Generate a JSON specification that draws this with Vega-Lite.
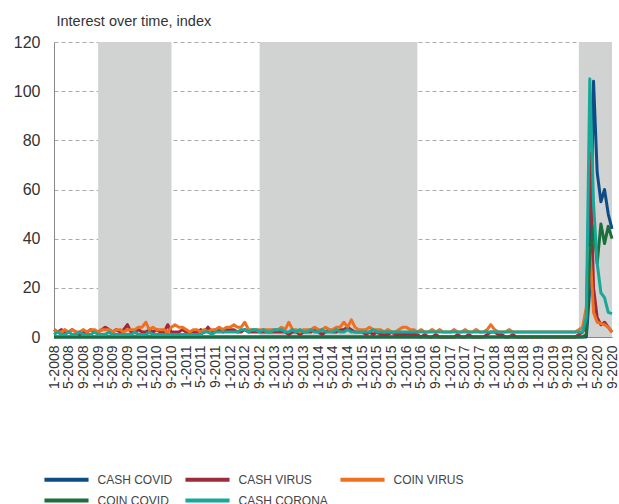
{
  "$schema": "https://vega.github.io/schema/vega-lite/v6.json",
  "width": 558,
  "height": 295,
  "autosize": "none",
  "padding": {"left": 54, "top": 42, "right": 7, "bottom": 167},
  "background": "white",
  "config": {
    "view": {"stroke": null},
    "font": "Liberation Sans",
    "axis": {"labelFont": "Liberation Sans", "labelColor": "#333", "titleFont": "Liberation Sans"},
    "legend": {"labelFont": "Liberation Sans"}
  },
  "datasets": {
    "periods": [
      {"s": "2009-01-01", "e": "2010-09-01"},
      {"s": "2012-09-01", "e": "2016-04-01"},
      {"s": "2019-12-01", "e": "2020-09-01"}
    ],
    "trends": [
      {"d":"2008-01-01","CASH COVID":0,"CASH VIRUS":3,"COIN VIRUS":3,"COIN COVID":0,"CASH CORONA":1},
      {"d":"2008-02-01","CASH COVID":0,"CASH VIRUS":2,"COIN VIRUS":2,"COIN COVID":0,"CASH CORONA":2},
      {"d":"2008-03-01","CASH COVID":0,"CASH VIRUS":3,"COIN VIRUS":2,"COIN COVID":0,"CASH CORONA":1},
      {"d":"2008-04-01","CASH COVID":0,"CASH VIRUS":2,"COIN VIRUS":3,"COIN COVID":0,"CASH CORONA":1},
      {"d":"2008-05-01","CASH COVID":0,"CASH VIRUS":2,"COIN VIRUS":2,"COIN COVID":0,"CASH CORONA":2},
      {"d":"2008-06-01","CASH COVID":0,"CASH VIRUS":3,"COIN VIRUS":3,"COIN COVID":0,"CASH CORONA":1},
      {"d":"2008-07-01","CASH COVID":0,"CASH VIRUS":2,"COIN VIRUS":2,"COIN COVID":0,"CASH CORONA":1},
      {"d":"2008-08-01","CASH COVID":0,"CASH VIRUS":1,"COIN VIRUS":2,"COIN COVID":0,"CASH CORONA":2},
      {"d":"2008-09-01","CASH COVID":0,"CASH VIRUS":2,"COIN VIRUS":3,"COIN COVID":0,"CASH CORONA":1},
      {"d":"2008-10-01","CASH COVID":0,"CASH VIRUS":2,"COIN VIRUS":2,"COIN COVID":0,"CASH CORONA":1},
      {"d":"2008-11-01","CASH COVID":0,"CASH VIRUS":3,"COIN VIRUS":3,"COIN COVID":0,"CASH CORONA":1},
      {"d":"2008-12-01","CASH COVID":0,"CASH VIRUS":2,"COIN VIRUS":3,"COIN COVID":0,"CASH CORONA":2},
      {"d":"2009-01-01","CASH COVID":0,"CASH VIRUS":2,"COIN VIRUS":2,"COIN COVID":0,"CASH CORONA":1},
      {"d":"2009-02-01","CASH COVID":0,"CASH VIRUS":3,"COIN VIRUS":3,"COIN COVID":0,"CASH CORONA":1},
      {"d":"2009-03-01","CASH COVID":0,"CASH VIRUS":4,"COIN VIRUS":3,"COIN COVID":0,"CASH CORONA":1},
      {"d":"2009-04-01","CASH COVID":0,"CASH VIRUS":3,"COIN VIRUS":3,"COIN COVID":0,"CASH CORONA":2},
      {"d":"2009-05-01","CASH COVID":0,"CASH VIRUS":2,"COIN VIRUS":2,"COIN COVID":0,"CASH CORONA":1},
      {"d":"2009-06-01","CASH COVID":0,"CASH VIRUS":3,"COIN VIRUS":3,"COIN COVID":0,"CASH CORONA":1},
      {"d":"2009-07-01","CASH COVID":0,"CASH VIRUS":2,"COIN VIRUS":3,"COIN COVID":0,"CASH CORONA":1},
      {"d":"2009-08-01","CASH COVID":0,"CASH VIRUS":3,"COIN VIRUS":2,"COIN COVID":0,"CASH CORONA":1},
      {"d":"2009-09-01","CASH COVID":0,"CASH VIRUS":5,"COIN VIRUS":3,"COIN COVID":0,"CASH CORONA":1},
      {"d":"2009-10-01","CASH COVID":0,"CASH VIRUS":2,"COIN VIRUS":3,"COIN COVID":0,"CASH CORONA":1},
      {"d":"2009-11-01","CASH COVID":0,"CASH VIRUS":2,"COIN VIRUS":3,"COIN COVID":0,"CASH CORONA":2},
      {"d":"2009-12-01","CASH COVID":0,"CASH VIRUS":3,"COIN VIRUS":4,"COIN COVID":0,"CASH CORONA":1},
      {"d":"2010-01-01","CASH COVID":0,"CASH VIRUS":2,"COIN VIRUS":4,"COIN COVID":0,"CASH CORONA":1},
      {"d":"2010-02-01","CASH COVID":0,"CASH VIRUS":2,"COIN VIRUS":6,"COIN COVID":0,"CASH CORONA":1},
      {"d":"2010-03-01","CASH COVID":0,"CASH VIRUS":3,"COIN VIRUS":3,"COIN COVID":0,"CASH CORONA":2},
      {"d":"2010-04-01","CASH COVID":0,"CASH VIRUS":2,"COIN VIRUS":4,"COIN COVID":0,"CASH CORONA":1},
      {"d":"2010-05-01","CASH COVID":0,"CASH VIRUS":3,"COIN VIRUS":3,"COIN COVID":0,"CASH CORONA":1},
      {"d":"2010-06-01","CASH COVID":0,"CASH VIRUS":2,"COIN VIRUS":3,"COIN COVID":0,"CASH CORONA":1},
      {"d":"2010-07-01","CASH COVID":0,"CASH VIRUS":2,"COIN VIRUS":3,"COIN COVID":0,"CASH CORONA":1},
      {"d":"2010-08-01","CASH COVID":0,"CASH VIRUS":5,"COIN VIRUS":2,"COIN COVID":0,"CASH CORONA":1},
      {"d":"2010-09-01","CASH COVID":0,"CASH VIRUS":2,"COIN VIRUS":4,"COIN COVID":0,"CASH CORONA":1},
      {"d":"2010-10-01","CASH COVID":0,"CASH VIRUS":2,"COIN VIRUS":5,"COIN COVID":0,"CASH CORONA":1},
      {"d":"2010-11-01","CASH COVID":0,"CASH VIRUS":2,"COIN VIRUS":4,"COIN COVID":0,"CASH CORONA":1},
      {"d":"2010-12-01","CASH COVID":0,"CASH VIRUS":3,"COIN VIRUS":4,"COIN COVID":0,"CASH CORONA":1},
      {"d":"2011-01-01","CASH COVID":0,"CASH VIRUS":2,"COIN VIRUS":3,"COIN COVID":0,"CASH CORONA":1},
      {"d":"2011-02-01","CASH COVID":0,"CASH VIRUS":2,"COIN VIRUS":2,"COIN COVID":0,"CASH CORONA":1},
      {"d":"2011-03-01","CASH COVID":0,"CASH VIRUS":2,"COIN VIRUS":3,"COIN COVID":0,"CASH CORONA":1},
      {"d":"2011-04-01","CASH COVID":0,"CASH VIRUS":2,"COIN VIRUS":3,"COIN COVID":0,"CASH CORONA":1},
      {"d":"2011-05-01","CASH COVID":0,"CASH VIRUS":3,"COIN VIRUS":2,"COIN COVID":0,"CASH CORONA":1},
      {"d":"2011-06-01","CASH COVID":0,"CASH VIRUS":2,"COIN VIRUS":3,"COIN COVID":0,"CASH CORONA":2},
      {"d":"2011-07-01","CASH COVID":0,"CASH VIRUS":4,"COIN VIRUS":2,"COIN COVID":0,"CASH CORONA":2},
      {"d":"2011-08-01","CASH COVID":0,"CASH VIRUS":2,"COIN VIRUS":3,"COIN COVID":0,"CASH CORONA":1},
      {"d":"2011-09-01","CASH COVID":0,"CASH VIRUS":3,"COIN VIRUS":3,"COIN COVID":0,"CASH CORONA":2},
      {"d":"2011-10-01","CASH COVID":0,"CASH VIRUS":3,"COIN VIRUS":4,"COIN COVID":0,"CASH CORONA":2},
      {"d":"2011-11-01","CASH COVID":0,"CASH VIRUS":2,"COIN VIRUS":3,"COIN COVID":0,"CASH CORONA":2},
      {"d":"2011-12-01","CASH COVID":0,"CASH VIRUS":3,"COIN VIRUS":4,"COIN COVID":0,"CASH CORONA":2},
      {"d":"2012-01-01","CASH COVID":0,"CASH VIRUS":3,"COIN VIRUS":4,"COIN COVID":0,"CASH CORONA":2},
      {"d":"2012-02-01","CASH COVID":0,"CASH VIRUS":3,"COIN VIRUS":5,"COIN COVID":0,"CASH CORONA":2},
      {"d":"2012-03-01","CASH COVID":0,"CASH VIRUS":2,"COIN VIRUS":4,"COIN COVID":0,"CASH CORONA":2},
      {"d":"2012-04-01","CASH COVID":0,"CASH VIRUS":2,"COIN VIRUS":4,"COIN COVID":0,"CASH CORONA":3},
      {"d":"2012-05-01","CASH COVID":0,"CASH VIRUS":3,"COIN VIRUS":6,"COIN COVID":0,"CASH CORONA":3},
      {"d":"2012-06-01","CASH COVID":0,"CASH VIRUS":2,"COIN VIRUS":3,"COIN COVID":0,"CASH CORONA":2},
      {"d":"2012-07-01","CASH COVID":0,"CASH VIRUS":2,"COIN VIRUS":3,"COIN COVID":0,"CASH CORONA":3},
      {"d":"2012-08-01","CASH COVID":0,"CASH VIRUS":2,"COIN VIRUS":3,"COIN COVID":0,"CASH CORONA":3},
      {"d":"2012-09-01","CASH COVID":0,"CASH VIRUS":2,"COIN VIRUS":3,"COIN COVID":0,"CASH CORONA":2},
      {"d":"2012-10-01","CASH COVID":0,"CASH VIRUS":2,"COIN VIRUS":3,"COIN COVID":0,"CASH CORONA":3},
      {"d":"2012-11-01","CASH COVID":0,"CASH VIRUS":2,"COIN VIRUS":3,"COIN COVID":0,"CASH CORONA":2},
      {"d":"2012-12-01","CASH COVID":0,"CASH VIRUS":2,"COIN VIRUS":3,"COIN COVID":0,"CASH CORONA":2},
      {"d":"2013-01-01","CASH COVID":0,"CASH VIRUS":2,"COIN VIRUS":3,"COIN COVID":0,"CASH CORONA":3},
      {"d":"2013-02-01","CASH COVID":0,"CASH VIRUS":2,"COIN VIRUS":3,"COIN COVID":0,"CASH CORONA":3},
      {"d":"2013-03-01","CASH COVID":0,"CASH VIRUS":2,"COIN VIRUS":4,"COIN COVID":0,"CASH CORONA":3},
      {"d":"2013-04-01","CASH COVID":0,"CASH VIRUS":2,"COIN VIRUS":3,"COIN COVID":0,"CASH CORONA":2},
      {"d":"2013-05-01","CASH COVID":0,"CASH VIRUS":1,"COIN VIRUS":6,"COIN COVID":0,"CASH CORONA":2},
      {"d":"2013-06-01","CASH COVID":0,"CASH VIRUS":2,"COIN VIRUS":3,"COIN COVID":0,"CASH CORONA":3},
      {"d":"2013-07-01","CASH COVID":0,"CASH VIRUS":2,"COIN VIRUS":3,"COIN COVID":0,"CASH CORONA":2},
      {"d":"2013-08-01","CASH COVID":0,"CASH VIRUS":1,"COIN VIRUS":2,"COIN COVID":0,"CASH CORONA":3},
      {"d":"2013-09-01","CASH COVID":0,"CASH VIRUS":2,"COIN VIRUS":3,"COIN COVID":0,"CASH CORONA":2},
      {"d":"2013-10-01","CASH COVID":0,"CASH VIRUS":2,"COIN VIRUS":3,"COIN COVID":0,"CASH CORONA":2},
      {"d":"2013-11-01","CASH COVID":0,"CASH VIRUS":2,"COIN VIRUS":3,"COIN COVID":0,"CASH CORONA":3},
      {"d":"2013-12-01","CASH COVID":0,"CASH VIRUS":3,"COIN VIRUS":4,"COIN COVID":0,"CASH CORONA":2},
      {"d":"2014-01-01","CASH COVID":0,"CASH VIRUS":2,"COIN VIRUS":3,"COIN COVID":0,"CASH CORONA":2},
      {"d":"2014-02-01","CASH COVID":0,"CASH VIRUS":1,"COIN VIRUS":3,"COIN COVID":0,"CASH CORONA":3},
      {"d":"2014-03-01","CASH COVID":0,"CASH VIRUS":2,"COIN VIRUS":4,"COIN COVID":0,"CASH CORONA":2},
      {"d":"2014-04-01","CASH COVID":0,"CASH VIRUS":3,"COIN VIRUS":3,"COIN COVID":0,"CASH CORONA":2},
      {"d":"2014-05-01","CASH COVID":0,"CASH VIRUS":2,"COIN VIRUS":3,"COIN COVID":0,"CASH CORONA":2},
      {"d":"2014-06-01","CASH COVID":0,"CASH VIRUS":2,"COIN VIRUS":4,"COIN COVID":0,"CASH CORONA":3},
      {"d":"2014-07-01","CASH COVID":0,"CASH VIRUS":3,"COIN VIRUS":4,"COIN COVID":0,"CASH CORONA":2},
      {"d":"2014-08-01","CASH COVID":0,"CASH VIRUS":3,"COIN VIRUS":6,"COIN COVID":0,"CASH CORONA":2},
      {"d":"2014-09-01","CASH COVID":0,"CASH VIRUS":4,"COIN VIRUS":4,"COIN COVID":0,"CASH CORONA":3},
      {"d":"2014-10-01","CASH COVID":0,"CASH VIRUS":3,"COIN VIRUS":7,"COIN COVID":0,"CASH CORONA":2},
      {"d":"2014-11-01","CASH COVID":0,"CASH VIRUS":2,"COIN VIRUS":4,"COIN COVID":0,"CASH CORONA":2},
      {"d":"2014-12-01","CASH COVID":0,"CASH VIRUS":2,"COIN VIRUS":3,"COIN COVID":0,"CASH CORONA":2},
      {"d":"2015-01-01","CASH COVID":0,"CASH VIRUS":2,"COIN VIRUS":3,"COIN COVID":0,"CASH CORONA":2},
      {"d":"2015-02-01","CASH COVID":0,"CASH VIRUS":1,"COIN VIRUS":3,"COIN COVID":0,"CASH CORONA":2},
      {"d":"2015-03-01","CASH COVID":0,"CASH VIRUS":2,"COIN VIRUS":4,"COIN COVID":0,"CASH CORONA":2},
      {"d":"2015-04-01","CASH COVID":0,"CASH VIRUS":1,"COIN VIRUS":3,"COIN COVID":0,"CASH CORONA":3},
      {"d":"2015-05-01","CASH COVID":0,"CASH VIRUS":2,"COIN VIRUS":3,"COIN COVID":0,"CASH CORONA":2},
      {"d":"2015-06-01","CASH COVID":0,"CASH VIRUS":1,"COIN VIRUS":3,"COIN COVID":0,"CASH CORONA":2},
      {"d":"2015-07-01","CASH COVID":0,"CASH VIRUS":1,"COIN VIRUS":2,"COIN COVID":0,"CASH CORONA":2},
      {"d":"2015-08-01","CASH COVID":0,"CASH VIRUS":1,"COIN VIRUS":3,"COIN COVID":0,"CASH CORONA":2},
      {"d":"2015-09-01","CASH COVID":0,"CASH VIRUS":2,"COIN VIRUS":2,"COIN COVID":0,"CASH CORONA":2},
      {"d":"2015-10-01","CASH COVID":0,"CASH VIRUS":1,"COIN VIRUS":2,"COIN COVID":0,"CASH CORONA":2},
      {"d":"2015-11-01","CASH COVID":0,"CASH VIRUS":1,"COIN VIRUS":3,"COIN COVID":0,"CASH CORONA":2},
      {"d":"2015-12-01","CASH COVID":0,"CASH VIRUS":1,"COIN VIRUS":4,"COIN COVID":0,"CASH CORONA":2},
      {"d":"2016-01-01","CASH COVID":0,"CASH VIRUS":1,"COIN VIRUS":4,"COIN COVID":0,"CASH CORONA":2},
      {"d":"2016-02-01","CASH COVID":0,"CASH VIRUS":1,"COIN VIRUS":3,"COIN COVID":0,"CASH CORONA":2},
      {"d":"2016-03-01","CASH COVID":0,"CASH VIRUS":1,"COIN VIRUS":3,"COIN COVID":0,"CASH CORONA":2},
      {"d":"2016-04-01","CASH COVID":0,"CASH VIRUS":1,"COIN VIRUS":2,"COIN COVID":0,"CASH CORONA":2},
      {"d":"2016-05-01","CASH COVID":0,"CASH VIRUS":0,"COIN VIRUS":3,"COIN COVID":0,"CASH CORONA":2},
      {"d":"2016-06-01","CASH COVID":0,"CASH VIRUS":1,"COIN VIRUS":2,"COIN COVID":0,"CASH CORONA":2},
      {"d":"2016-07-01","CASH COVID":0,"CASH VIRUS":0,"COIN VIRUS":2,"COIN COVID":0,"CASH CORONA":2},
      {"d":"2016-08-01","CASH COVID":0,"CASH VIRUS":0,"COIN VIRUS":3,"COIN COVID":0,"CASH CORONA":2},
      {"d":"2016-09-01","CASH COVID":0,"CASH VIRUS":1,"COIN VIRUS":2,"COIN COVID":0,"CASH CORONA":2},
      {"d":"2016-10-01","CASH COVID":0,"CASH VIRUS":0,"COIN VIRUS":3,"COIN COVID":0,"CASH CORONA":2},
      {"d":"2016-11-01","CASH COVID":0,"CASH VIRUS":0,"COIN VIRUS":2,"COIN COVID":0,"CASH CORONA":2},
      {"d":"2016-12-01","CASH COVID":0,"CASH VIRUS":0,"COIN VIRUS":2,"COIN COVID":0,"CASH CORONA":2},
      {"d":"2017-01-01","CASH COVID":0,"CASH VIRUS":0,"COIN VIRUS":2,"COIN COVID":0,"CASH CORONA":2},
      {"d":"2017-02-01","CASH COVID":0,"CASH VIRUS":0,"COIN VIRUS":3,"COIN COVID":0,"CASH CORONA":2},
      {"d":"2017-03-01","CASH COVID":0,"CASH VIRUS":1,"COIN VIRUS":2,"COIN COVID":0,"CASH CORONA":2},
      {"d":"2017-04-01","CASH COVID":0,"CASH VIRUS":0,"COIN VIRUS":2,"COIN COVID":0,"CASH CORONA":2},
      {"d":"2017-05-01","CASH COVID":0,"CASH VIRUS":0,"COIN VIRUS":3,"COIN COVID":0,"CASH CORONA":2},
      {"d":"2017-06-01","CASH COVID":0,"CASH VIRUS":1,"COIN VIRUS":2,"COIN COVID":0,"CASH CORONA":2},
      {"d":"2017-07-01","CASH COVID":0,"CASH VIRUS":0,"COIN VIRUS":2,"COIN COVID":0,"CASH CORONA":2},
      {"d":"2017-08-01","CASH COVID":0,"CASH VIRUS":0,"COIN VIRUS":3,"COIN COVID":0,"CASH CORONA":2},
      {"d":"2017-09-01","CASH COVID":0,"CASH VIRUS":0,"COIN VIRUS":2,"COIN COVID":0,"CASH CORONA":2},
      {"d":"2017-10-01","CASH COVID":0,"CASH VIRUS":0,"COIN VIRUS":2,"COIN COVID":0,"CASH CORONA":2},
      {"d":"2017-11-01","CASH COVID":0,"CASH VIRUS":1,"COIN VIRUS":3,"COIN COVID":0,"CASH CORONA":2},
      {"d":"2017-12-01","CASH COVID":0,"CASH VIRUS":2,"COIN VIRUS":5,"COIN COVID":0,"CASH CORONA":2},
      {"d":"2018-01-01","CASH COVID":0,"CASH VIRUS":2,"COIN VIRUS":3,"COIN COVID":0,"CASH CORONA":2},
      {"d":"2018-02-01","CASH COVID":0,"CASH VIRUS":1,"COIN VIRUS":2,"COIN COVID":0,"CASH CORONA":2},
      {"d":"2018-03-01","CASH COVID":0,"CASH VIRUS":1,"COIN VIRUS":2,"COIN COVID":0,"CASH CORONA":2},
      {"d":"2018-04-01","CASH COVID":0,"CASH VIRUS":0,"COIN VIRUS":2,"COIN COVID":0,"CASH CORONA":2},
      {"d":"2018-05-01","CASH COVID":0,"CASH VIRUS":0,"COIN VIRUS":3,"COIN COVID":0,"CASH CORONA":2},
      {"d":"2018-06-01","CASH COVID":0,"CASH VIRUS":1,"COIN VIRUS":2,"COIN COVID":0,"CASH CORONA":2},
      {"d":"2018-07-01","CASH COVID":0,"CASH VIRUS":0,"COIN VIRUS":2,"COIN COVID":0,"CASH CORONA":2},
      {"d":"2018-08-01","CASH COVID":0,"CASH VIRUS":0,"COIN VIRUS":2,"COIN COVID":0,"CASH CORONA":2},
      {"d":"2018-09-01","CASH COVID":0,"CASH VIRUS":0,"COIN VIRUS":2,"COIN COVID":0,"CASH CORONA":2},
      {"d":"2018-10-01","CASH COVID":0,"CASH VIRUS":0,"COIN VIRUS":2,"COIN COVID":0,"CASH CORONA":2},
      {"d":"2018-11-01","CASH COVID":0,"CASH VIRUS":0,"COIN VIRUS":2,"COIN COVID":0,"CASH CORONA":2},
      {"d":"2018-12-01","CASH COVID":0,"CASH VIRUS":0,"COIN VIRUS":2,"COIN COVID":0,"CASH CORONA":2},
      {"d":"2019-01-01","CASH COVID":0,"CASH VIRUS":0,"COIN VIRUS":2,"COIN COVID":0,"CASH CORONA":2},
      {"d":"2019-02-01","CASH COVID":0,"CASH VIRUS":0,"COIN VIRUS":2,"COIN COVID":0,"CASH CORONA":2},
      {"d":"2019-03-01","CASH COVID":0,"CASH VIRUS":0,"COIN VIRUS":2,"COIN COVID":0,"CASH CORONA":2},
      {"d":"2019-04-01","CASH COVID":0,"CASH VIRUS":0,"COIN VIRUS":2,"COIN COVID":0,"CASH CORONA":2},
      {"d":"2019-05-01","CASH COVID":0,"CASH VIRUS":0,"COIN VIRUS":2,"COIN COVID":0,"CASH CORONA":2},
      {"d":"2019-06-01","CASH COVID":0,"CASH VIRUS":0,"COIN VIRUS":2,"COIN COVID":0,"CASH CORONA":2},
      {"d":"2019-07-01","CASH COVID":0,"CASH VIRUS":0,"COIN VIRUS":2,"COIN COVID":0,"CASH CORONA":2},
      {"d":"2019-08-01","CASH COVID":0,"CASH VIRUS":0,"COIN VIRUS":2,"COIN COVID":0,"CASH CORONA":2},
      {"d":"2019-09-01","CASH COVID":0,"CASH VIRUS":0,"COIN VIRUS":2,"COIN COVID":0,"CASH CORONA":2},
      {"d":"2019-10-01","CASH COVID":0,"CASH VIRUS":0,"COIN VIRUS":2,"COIN COVID":0,"CASH CORONA":2},
      {"d":"2019-11-01","CASH COVID":0,"CASH VIRUS":0,"COIN VIRUS":2,"COIN COVID":0,"CASH CORONA":2},
      {"d":"2019-12-01","CASH COVID":0,"CASH VIRUS":1,"COIN VIRUS":3,"COIN COVID":0,"CASH CORONA":2},
      {"d":"2020-01-01","CASH COVID":0,"CASH VIRUS":2,"COIN VIRUS":4,"COIN COVID":0,"CASH CORONA":2},
      {"d":"2020-02-01","CASH COVID":0,"CASH VIRUS":5,"COIN VIRUS":12,"COIN COVID":1,"CASH CORONA":8},
      {"d":"2020-03-01","CASH COVID":20,"CASH VIRUS":75,"COIN VIRUS":36,"COIN COVID":33,"CASH CORONA":105},
      {"d":"2020-04-01","CASH COVID":104,"CASH VIRUS":20,"COIN VIRUS":10,"COIN COVID":45,"CASH CORONA":54},
      {"d":"2020-05-01","CASH COVID":67,"CASH VIRUS":8,"COIN VIRUS":6,"COIN COVID":30,"CASH CORONA":30},
      {"d":"2020-06-01","CASH COVID":55,"CASH VIRUS":5,"COIN VIRUS":5.5,"COIN COVID":46,"CASH CORONA":18},
      {"d":"2020-07-01","CASH COVID":60,"CASH VIRUS":6,"COIN VIRUS":5,"COIN COVID":38,"CASH CORONA":16},
      {"d":"2020-08-01","CASH COVID":50,"CASH VIRUS":4,"COIN VIRUS":4,"COIN COVID":45,"CASH CORONA":10},
      {"d":"2020-09-01","CASH COVID":44,"CASH VIRUS":2,"COIN VIRUS":2,"COIN COVID":40,"CASH CORONA":9.5}
    ]
  },
  "layer": [
    {
      "data": {"name": "periods"},
      "mark": {"type": "rect", "color": "#d1d2d2"},
      "encoding": {
        "x": {
          "field": "s",
          "type": "temporal",
          "title": null,
          "scale": {"type": "utc", "nice": false, "domain": [{"year": 2008, "month": 1, "date": 1, "utc": true}, {"year": 2020, "month": 9, "date": 1, "utc": true}]},
          "axis": {
            "labelExpr": "utcFormat(datum.value, '%-m-%Y')",
            "tickCount": {"interval": "month", "step": 4},
            "labelAngle": 270,
            "labelOverlap": false,
            "labelFontSize": 14,
            "labelPadding": 8,
            "ticks": false,
            "grid": false,
            "domain": true,
            "domainColor": "#888"
          }
        },
        "x2": {"field": "e"}
      }
    },
    {
      "data": {"name": "trends"},
      "transform": [
        {"fold": ["CASH COVID", "CASH VIRUS", "COIN VIRUS", "COIN COVID", "CASH CORONA"], "as": ["series", "value"]}
      ],
      "mark": {"type": "line", "strokeWidth": 3, "strokeJoin": "round"},
      "encoding": {
        "x": {
          "field": "d",
          "type": "temporal",
          "title": null,
          "scale": {"type": "utc", "nice": false, "domain": [{"year": 2008, "month": 1, "date": 1, "utc": true}, {"year": 2020, "month": 9, "date": 1, "utc": true}]},
          "axis": {
            "labelExpr": "utcFormat(datum.value, '%-m-%Y')",
            "tickCount": {"interval": "month", "step": 4},
            "labelAngle": 270,
            "labelOverlap": false,
            "labelFontSize": 14,
            "labelPadding": 8,
            "ticks": false,
            "grid": false,
            "domain": true,
            "domainColor": "#888"
          }
        },
        "y": {
          "field": "value",
          "type": "quantitative",
          "scale": {"domain": [0, 120], "nice": false},
          "axis": {
            "values": [0, 20, 40, 60, 80, 100, 120],
            "title": "Interest over time, index",
            "titleAngle": 0,
            "titleAlign": "left",
            "titleBaseline": "alphabetic",
            "titleX": 2,
            "titleY": -17,
            "titleFontSize": 14.5,
            "titleFontWeight": "normal",
            "titleColor": "#333",
            "labelFontSize": 16,
            "labelPadding": 14,
            "ticks": false,
            "domainColor": "#888",
            "gridColor": "#aaa",
            "gridDash": [4, 3]
          }
        },
        "color": {
          "field": "series",
          "type": "nominal",
          "scale": {
            "domain": ["CASH COVID", "CASH VIRUS", "COIN VIRUS", "COIN COVID", "CASH CORONA"],
            "range": ["#0d4c86", "#9e2a3c", "#f07022", "#1d6e3a", "#17a89a"]
          },
          "legend": {
            "title": null,
            "orient": "none",
            "legendX": 0,
            "legendY": 425,
            "direction": "horizontal",
            "columns": 3,
            "gridAlign": "each",
            "columnPadding": 4,
            "rowPadding": 0,
            "symbolType": "M-2.1,0H2.1",
            "symbolSize": 441,
            "symbolStrokeWidth": 4,
            "labelFontSize": 12,
            "labelColor": "#444",
            "labelOffset": 18.5
          }
        }
      }
    }
  ]
}
